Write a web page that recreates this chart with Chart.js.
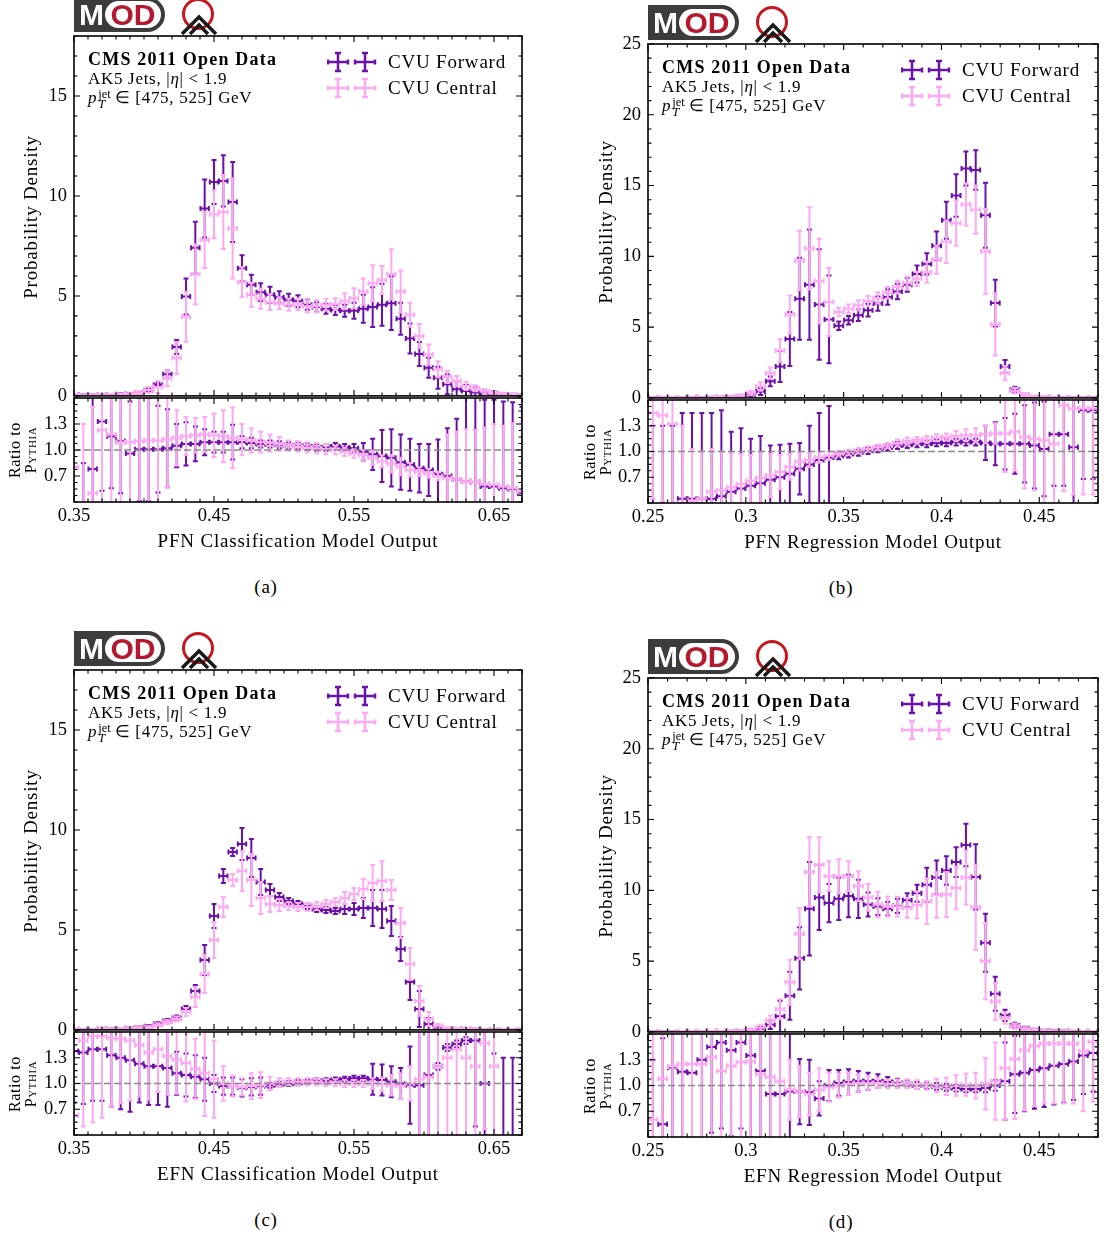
<!DOCTYPE html>
<html>
<head>
<meta charset="utf-8">
<title>CVU Forward vs Central</title>
<script src="https://cdn.jsdelivr.net/npm/chart.js@4.4.1/dist/chart.umd.min.js"></script>
<style>
  html, body { margin: 0; padding: 0; background: #fff; }
  body { position: relative; width: 1106px; height: 1239px; overflow: hidden; font-family: 'Liberation Serif', 'Times New Roman', serif; color: #000; }
  canvas, .abs { position: absolute; }
  .rot { white-space: nowrap; transform: translate(-50%, -50%) rotate(-90deg); }
  .ctr { white-space: nowrap; transform: translate(-50%, -50%); }
  .vc { white-space: nowrap; transform: translateY(-50%); }
  .mod { position: relative; width: 91px; height: 35px; background: #3c3c3c; border-radius: 0 18px 18px 0; font-family: 'Liberation Sans', Arial, sans-serif; font-weight: bold; }
  .mod .m { position: absolute; left: 5px; top: 0; color: #fff; font-size: 30px; line-height: 35px; }
  .mod .od { position: absolute; left: 31px; top: 4px; width: 56px; height: 27px; border-radius: 14px; background: #fff; color: #b3192f; font-size: 30px; line-height: 28px; text-align: center; }
  .info { font-size: 17px; line-height: 19px; letter-spacing: 0.7px; white-space: nowrap; }
  .info .cms { font-weight: bold; font-size: 18px; letter-spacing: 1.2px; }
  .ss { display: inline-block; vertical-align: -5px; font-size: 12.5px; line-height: 10px; letter-spacing: 0; margin: 0 4px 0 1px; }
  .ss span { display: block; }
  .leg { font-size: 19px; letter-spacing: 0.8px; }
  .ttl { font-size: 19px; letter-spacing: 0.8px; }
  .rtl { font-size: 16px; letter-spacing: 0.6px; }
</style>
</head>
<body>
<script>
"use strict";

// ---- binning / ticks ----
const classBinStart = 0.35, classBinWidth = 1 / 150, classBinCount = 49;
const regBinStart = 0.2525, regBinWidth = 0.005, regBinCount = 46;
const classTicks = [0.35, 0.45, 0.55, 0.65];
const classTickLabels = ['0.35', '0.45', '0.55', '0.65'];
const regTicks = [0.25, 0.3, 0.35, 0.4, 0.45];
const regTickLabels = ['0.25', '0.3', '0.35', '0.4', '0.45'];
const classDensityTicks = [0, 5, 10, 15];
const regDensityTicks = [0, 5, 10, 15, 20, 25];
const ratioTicks = [0.7, 1.0, 1.3];
const ratioTickLabels = ['0.7', '1.0', '1.3'];

// ---- (a) PFN classification ----
const pfnClassForward = [0.03, 0.04, 0.04, 0.05, 0.05, 0.08, 0.1, 0.15, 0.3, 0.55, 1.08, 2.44, 4.97, 7.41, 9.37, 10.7, 10.75, 9.7, 6.38, 5.56, 5.19, 5.06, 4.94, 4.81, 4.73, 4.56, 4.44, 4.36, 4.3, 4.26, 4.26, 4.36, 4.44, 4.56, 4.64, 3.86, 2.87, 2.1, 1.41, 0.91, 0.58, 0.33, 0.25, 0.17, 0.12, 0.08, 0.05, 0.03, 0.02];
const pfnClassForwardErr = [0.03, 0.03, 0.03, 0.03, 0.04, 0.05, 0.05, 0.06, 0.08, 0.1, 0.2, 0.35, 0.9, 1.3, 1.45, 1.1, 1.28, 2.0, 0.66, 0.5, 0.45, 0.4, 0.3, 0.3, 0.3, 0.25, 0.25, 0.25, 0.25, 0.3, 0.4, 0.7, 1.0, 1.05, 1.35, 0.8, 0.75, 0.6, 0.5, 0.55, 0.5, 0.4, 0.3, 0.25, 0.2, 0.15, 0.1, 0.08, 0.05];
const pfnClassCentral = [0.03, 0.03, 0.04, 0.04, 0.05, 0.07, 0.1, 0.15, 0.3, 0.45, 0.88, 1.9, 3.96, 6.09, 7.8, 9.09, 9.2, 8.37, 5.69, 5.06, 4.86, 4.69, 4.64, 4.56, 4.59, 4.48, 4.48, 4.56, 4.59, 4.73, 4.89, 5.22, 5.64, 5.8, 6.09, 5.22, 4.06, 2.99, 2.07, 1.33, 0.95, 0.75, 0.5, 0.38, 0.22, 0.13, 0.08, 0.05, 0.03];
const pfnClassCentralErr = [0.03, 0.03, 0.03, 0.04, 0.04, 0.05, 0.06, 0.08, 0.15, 0.3, 0.4, 0.8, 1.25, 1.5, 1.4, 1.2, 1.85, 2.5, 0.75, 0.6, 0.5, 0.4, 0.3, 0.3, 0.3, 0.3, 0.3, 0.3, 0.3, 0.4, 0.5, 0.65, 0.9, 0.7, 1.25, 1.05, 0.6, 0.6, 0.5, 0.4, 0.3, 0.25, 0.2, 0.15, 0.12, 0.1, 0.08, 0.05, 0.04];
const pfnClassForwardRatio = [0.3, 0.3, 0.78, 1.33, 1.16, 1.1, 0.96, 1.01, 1.01, 1.01, 1.02, 1.05, 1.07, 1.07, 1.09, 1.09, 1.09, 1.09, 1.09, 1.08, 1.07, 1.07, 1.06, 1.05, 1.05, 1.04, 1.03, 1.03, 1.04, 1.03, 1.02, 0.98, 0.95, 0.93, 0.91, 0.86, 0.83, 0.79, 0.77, 0.72, 0.7, 0.66, 0.64, 0.63, 0.58, 0.58, 0.56, 0.55, 0.5];
const pfnClassForwardRatioErr = [0.5, 0.55, 1.0, 0.8, 0.6, 0.6, 0.6, 0.6, 0.6, 0.5, 0.45, 0.25, 0.25, 0.2, 0.15, 0.12, 0.12, 0.2, 0.07, 0.06, 0.04, 0.04, 0.04, 0.04, 0.04, 0.04, 0.04, 0.04, 0.04, 0.04, 0.05, 0.1, 0.18, 0.3, 0.33, 0.32, 0.3, 0.28, 0.3, 0.4, 0.55, 0.7, 1.0, 1.0, 1.0, 1.0, 1.0, 1.0, 1.0];
const pfnClassCentralRatio = [0.8, 0.3, 0.5, 1.23, 1.18, 1.09, 1.09, 1.1, 1.11, 1.11, 1.12, 1.14, 1.16, 1.17, 1.18, 1.17, 1.16, 1.14, 1.12, 1.11, 1.09, 1.08, 1.07, 1.05, 1.04, 1.03, 1.02, 1.01, 1.0, 0.98, 0.96, 0.94, 0.91, 0.87, 0.84, 0.81, 0.77, 0.75, 0.73, 0.7, 0.68, 0.66, 0.64, 0.63, 0.61, 0.6, 0.58, 0.56, 0.52];
const pfnClassCentralRatioErr = [1, 1, 1, 1, 1, 1, 1, 1, 1, 1, 0.55, 0.32, 0.22, 0.2, 0.2, 0.25, 0.3, 0.35, 0.18, 0.14, 0.12, 0.1, 0.08, 0.06, 0.06, 0.06, 0.06, 0.06, 0.05, 0.05, 0.05, 0.06, 0.08, 0.07, 0.1, 0.1, 0.08, 0.05, 0.05, 0.05, 0.5, 0.55, 0.6, 0.6, 0.65, 0.7, 0.7, 0.75, 0.8];

// ---- (b) PFN regression ----
const pfnRegForward = [0.03, 0.03, 0.03, 0.03, 0.04, 0.04, 0.05, 0.06, 0.08, 0.1, 0.25, 0.45, 1.17, 2.22, 4.16, 7.0, 8.0, 6.6, 5.54, 5.09, 5.49, 5.84, 6.2, 6.66, 7.13, 7.52, 7.99, 8.76, 9.46, 10.75, 12.55, 14.3, 16.2, 16.1, 12.9, 6.7, 2.22, 0.58, 0.2, 0.08, 0.05, 0.04, 0.03, 0.03, 0.02, 0.02];
const pfnRegForwardErr = [0.03, 0.03, 0.03, 0.03, 0.03, 0.03, 0.04, 0.04, 0.05, 0.06, 0.12, 0.25, 0.35, 1.1, 1.9, 2.9, 3.9, 3.9, 3.1, 0.3, 0.3, 0.4, 0.45, 0.5, 0.55, 0.55, 0.5, 0.6, 0.75, 1.0, 1.3, 1.5, 1.2, 1.4, 2.3, 1.65, 0.45, 0.2, 0.1, 0.06, 0.04, 0.03, 0.03, 0.03, 0.02, 0.02];
const pfnRegCentral = [0.03, 0.04, 0.04, 0.04, 0.05, 0.05, 0.06, 0.08, 0.1, 0.15, 0.35, 0.8, 1.75, 3.34, 5.89, 9.7, 10.56, 8.25, 6.78, 6.07, 6.3, 6.54, 6.85, 7.06, 7.43, 7.83, 8.1, 8.41, 8.88, 9.77, 11.03, 12.34, 13.67, 13.3, 10.35, 5.19, 1.75, 0.51, 0.2, 0.1, 0.06, 0.05, 0.04, 0.03, 0.03, 0.02];
const pfnRegCentralErr = [0.03, 0.03, 0.03, 0.03, 0.03, 0.03, 0.04, 0.05, 0.06, 0.1, 0.15, 0.3, 0.4, 0.8, 1.35, 2.1, 2.9, 3.0, 2.4, 0.3, 0.3, 0.35, 0.35, 0.4, 0.4, 0.45, 0.45, 0.5, 0.75, 1.0, 1.5, 1.6, 1.5, 1.7, 3.0, 2.2, 0.5, 0.2, 0.1, 0.06, 0.05, 0.04, 0.04, 0.03, 0.03, 0.03];
const pfnRegForwardRatio = [0.3, 0.3, 0.3, 0.45, 0.45, 0.45, 0.45, 0.48, 0.53, 0.57, 0.6, 0.63, 0.67, 0.7, 0.74, 0.8, 0.85, 0.9, 0.93, 0.95, 0.97, 0.99, 1.01, 1.03, 1.05, 1.07, 1.08, 1.09, 1.09, 1.1, 1.1, 1.11, 1.11, 1.11, 1.1, 1.09, 1.09, 1.09, 1.09, 1.07, 1.03, 1.2, 1.2, 1.05, 1.48, 1.48];
const pfnRegForwardRatioErr = [1, 1, 1, 1, 1, 1, 1, 1, 0.7, 0.7, 0.55, 0.55, 0.4, 0.38, 0.35, 0.3, 0.45, 0.55, 0.6, 0.04, 0.04, 0.04, 0.04, 0.04, 0.04, 0.04, 0.04, 0.04, 0.04, 0.04, 0.04, 0.04, 0.04, 0.04, 0.2, 0.25, 0.3, 0.35, 0.45, 0.5, 0.55, 0.6, 0.6, 0.7, 0.8, 0.8];
const pfnRegCentralRatio = [1.45, 1.42, 1.32, 0.4, 0.43, 0.45, 0.53, 0.55, 0.58, 0.62, 0.66, 0.69, 0.72, 0.76, 0.82, 0.88, 0.9, 0.93, 0.95, 0.98, 0.99, 1.01, 1.03, 1.05, 1.07, 1.1, 1.12, 1.13, 1.14, 1.16, 1.17, 1.18, 1.19, 1.19, 1.2, 1.21, 1.21, 1.23, 1.17, 1.15, 1.13, 1.09, 1.54, 1.5, 1.5, 1.5];
const pfnRegCentralRatioErr = [1, 1, 1, 0.9, 0.6, 0.55, 0.5, 0.45, 0.4, 0.35, 0.3, 0.3, 0.25, 0.2, 0.15, 0.1, 0.08, 0.06, 0.05, 0.03, 0.03, 0.03, 0.03, 0.03, 0.03, 0.04, 0.04, 0.04, 0.04, 0.04, 0.04, 0.06, 0.07, 0.08, 0.1, 0.12, 0.45, 0.45, 0.6, 0.6, 1, 1, 1, 1, 1, 1];

// ---- (c) EFN classification ----
const efnClassForward = [0.02, 0.03, 0.03, 0.04, 0.05, 0.06, 0.08, 0.12, 0.18, 0.3, 0.45, 0.6, 1.05, 1.95, 3.5, 5.7, 7.7, 8.9, 9.3, 8.6, 7.4, 7.0, 6.65, 6.45, 6.3, 6.2, 6.05, 6.0, 5.95, 6.05, 6.05, 6.1, 6.1, 6.05, 5.45, 4.05, 2.4, 1.05, 0.3, 0.1, 0.05, 0.04, 0.03, 0.03, 0.02, 0.02, 0.02, 0.02, 0.02];
const efnClassForwardErr = [0.02, 0.02, 0.02, 0.03, 0.03, 0.03, 0.04, 0.05, 0.06, 0.08, 0.1, 0.12, 0.15, 0.3, 0.75, 0.6, 0.35, 0.2, 0.8, 0.95, 0.65, 0.3, 0.2, 0.15, 0.15, 0.15, 0.15, 0.15, 0.15, 0.25, 0.3, 0.5, 0.9, 0.95, 0.75, 0.6, 0.9, 0.9, 0.3, 0.1, 0.05, 0.04, 0.03, 0.03, 0.02, 0.02, 0.02, 0.02, 0.02];
const efnClassCentral = [0.02, 0.03, 0.03, 0.04, 0.05, 0.06, 0.08, 0.11, 0.15, 0.25, 0.4, 0.55, 0.9, 1.65, 2.8, 4.5, 6.15, 7.5, 7.95, 7.5, 6.6, 6.3, 6.25, 6.2, 6.15, 6.15, 6.2, 6.3, 6.4, 6.6, 6.8, 7.05, 7.35, 7.45, 7.0, 5.35, 3.3, 1.45, 0.55, 0.2, 0.08, 0.05, 0.04, 0.03, 0.03, 0.02, 0.02, 0.02, 0.02];
const efnClassCentralErr = [0.02, 0.02, 0.02, 0.03, 0.03, 0.03, 0.04, 0.05, 0.06, 0.08, 0.1, 0.12, 0.2, 0.5, 0.95, 0.9, 0.5, 0.3, 1.0, 1.3, 0.8, 0.4, 0.3, 0.2, 0.2, 0.2, 0.2, 0.2, 0.2, 0.3, 0.3, 0.5, 0.9, 1.0, 0.5, 0.75, 0.8, 0.75, 0.35, 0.1, 0.05, 0.04, 0.03, 0.03, 0.02, 0.02, 0.02, 0.02, 0.02];
const efnClassForwardRatio = [1.38, 1.36, 1.4, 1.4, 1.33, 1.3, 1.27, 1.23, 1.2, 1.2, 1.18, 1.12, 1.1, 1.08, 1.05, 1.0, 0.97, 0.97, 0.95, 0.96, 0.97, 0.98, 0.99, 1.0, 1.01, 1.02, 1.03, 1.03, 1.04, 1.05, 1.06, 1.06, 1.05, 1.04, 1.02, 1.0, 0.98, 0.98, 1.1, 1.2, 1.42, 1.46, 1.5, 1.5, 1.0, 0.35, 0.3, 0.3, 0.3];
const efnClassForwardRatioErr = [0.6, 0.6, 0.6, 0.6, 0.6, 0.6, 0.6, 0.45, 0.45, 0.45, 0.45, 0.25, 0.25, 0.25, 0.25, 0.1, 0.1, 0.1, 0.1, 0.1, 0.1, 0.03, 0.03, 0.03, 0.03, 0.03, 0.03, 0.03, 0.03, 0.03, 0.03, 0.03, 0.18, 0.18, 0.18, 0.18, 0.45, 1, 1, 0.04, 0.04, 0.04, 0.04, 1, 1, 1, 1, 1, 1];
const efnClassCentralRatio = [0.63, 1.5, 1.55, 1.55, 1.53, 1.52, 1.5, 1.45, 1.36, 1.4, 1.32, 1.28, 1.24, 1.17, 1.12, 1.05, 1.0, 0.97, 0.96, 0.97, 0.98, 1.0, 1.01, 1.02, 1.02, 1.02, 1.02, 1.01, 1.01, 1.0, 1.0, 1.0, 1.0, 0.99, 0.98, 0.97, 1.0, 1.05, 1.08, 1.2, 1.3, 1.4, 1.3, 1.2, 1.47, 1.2, null, null, null];
const efnClassCentralRatioErr = [1, 1, 1, 0.95, 0.8, 0.75, 0.7, 0.6, 0.55, 0.5, 0.45, 0.4, 0.45, 0.35, 0.5, 0.45, 0.2, 0.12, 0.1, 0.15, 0.15, 0.08, 0.05, 0.04, 0.04, 0.04, 0.04, 0.04, 0.04, 0.04, 0.04, 0.04, 0.06, 0.08, 0.12, 0.15, 0.2, 1, 1, 1, 1, 1, 1, 1, 1, 1, null, null, null];

// ---- (d) EFN regression ----
const efnRegForward = [0.02, 0.02, 0.03, 0.03, 0.03, 0.03, 0.04, 0.04, 0.05, 0.06, 0.1, 0.2, 0.5, 1.1, 2.55, 5.2, 8.7, 9.5, 9.1, 9.4, 9.6, 9.4, 9.0, 8.85, 8.7, 8.9, 9.3, 9.8, 10.4, 10.9, 11.4, 12.0, 13.2, 10.95, 6.3, 2.7, 1.17, 0.45, 0.25, 0.15, 0.1, 0.08, 0.06, 0.05, 0.04, 0.03];
const efnRegForwardErr = [0.02, 0.02, 0.02, 0.02, 0.03, 0.03, 0.03, 0.03, 0.04, 0.05, 0.08, 0.15, 0.3, 1.1, 1.7, 2.2, 3.3, 2.3, 1.35, 1.5, 1.5, 1.35, 0.85, 0.6, 0.5, 0.5, 0.5, 0.6, 1.2, 1.2, 1.0, 1.05, 1.5, 2.3, 2.05, 1.2, 0.4, 0.2, 0.12, 0.08, 0.06, 0.05, 0.04, 0.04, 0.03, 0.03];
const efnRegCentral = [0.02, 0.03, 0.03, 0.03, 0.04, 0.04, 0.05, 0.05, 0.06, 0.08, 0.15, 0.3, 0.8, 1.6, 3.5, 6.94, 11.3, 11.8, 11.0, 11.0, 11.0, 10.3, 9.5, 9.0, 8.86, 8.85, 8.76, 8.97, 9.23, 9.67, 9.7, 10.16, 10.9, 8.8, 5.0, 2.15, 0.98, 0.4, 0.2, 0.12, 0.08, 0.06, 0.05, 0.04, 0.03, 0.03];
const efnRegCentralErr = [0.02, 0.02, 0.02, 0.03, 0.03, 0.03, 0.04, 0.04, 0.05, 0.06, 0.1, 0.2, 0.35, 0.7, 1.6, 1.8, 2.45, 1.95, 1.05, 1.2, 1.05, 1.05, 0.95, 0.9, 0.7, 0.7, 0.7, 0.95, 1.6, 1.6, 1.6, 1.5, 1.9, 3.0, 2.7, 1.3, 0.4, 0.2, 0.12, 0.08, 0.06, 0.05, 0.04, 0.04, 0.03, 0.03];
const efnRegForwardRatio = [0.3, 0.55, 1.21, 1.16, 1.15, 1.3, 1.45, 1.5, 1.41, 1.5, 1.35, 1.17, 0.9, 0.9, 0.93, 0.93, 0.92, 0.85, 1.0, 1.03, 1.04, 1.05, 1.05, 1.05, 1.04, 1.03, 1.02, 1.0, 1.0, 0.99, 0.98, 0.97, 0.96, 0.96, 0.97, 1.0, 1.05, 1.13, 1.15, 1.18, 1.2, 1.23, 1.25, 1.28, 1.35, 1.38];
const efnRegForwardRatioErr = [1, 1, 1, 1, 1, 1, 1, 1, 1, 1, 1, 1, 1, 1, 1, 0.38, 0.38, 0.2, 0.18, 0.15, 0.15, 0.12, 0.1, 0.08, 0.06, 0.05, 0.04, 0.04, 0.04, 0.04, 0.04, 0.04, 0.04, 0.04, 0.05, 0.06, 0.45, 0.45, 0.45, 0.45, 0.45, 0.45, 0.45, 0.45, 0.45, 0.45];
const efnRegCentralRatio = [0.6, 1.08, 1.22, 1.25, 1.25, 1.25, 1.33, 1.17, 1.23, 1.27, 1.28, 1.13, 1.1, 1.05, 0.95, 0.93, 0.9, 0.95, 0.98, 1.0, 1.02, 1.03, 1.03, 1.03, 1.02, 1.02, 1.02, 1.01, 1.0, 1.0, 0.99, 1.0, 1.01, 1.0, 1.02, 1.05, 1.2, 1.31, 1.41, 1.46, 1.49, 1.49, 1.49, 1.49, 1.4, 1.51];
const efnRegCentralRatioErr = [1, 1, 1, 1, 1, 1, 1, 1, 1, 1, 1, 1, 0.9, 0.8, 0.35, 0.3, 0.25, 0.25, 0.17, 0.14, 0.13, 0.1, 0.08, 0.06, 0.05, 0.05, 0.05, 0.05, 0.05, 0.08, 0.1, 0.12, 0.13, 0.15, 0.3, 0.45, 0.6, 0.7, 0.7, 0.7, 0.7, 0.7, 0.7, 0.7, 0.7, 0.7];

const DARK = '#6b10a8';
const PINK = '#ffa8f4';
const SERIF = "'Liberation Serif', 'Times New Roman', serif";
const tickFont = {family: SERIF, size: 18.5};

function binCenters(start, width, n) {
  const out = [];
  for (let k = 0; k < n; k++) out.push(start + k * width);
  return out;
}
const classBins = binCenters(classBinStart, classBinWidth, classBinCount);
const regBins = binCenters(regBinStart, regBinWidth, regBinCount);

function points(bins, vals, errs) {
  const out = [];
  bins.forEach((b, i) => {
    if (vals[i] != null) out.push({x: b, y: vals[i], err: errs[i]});
  });
  return out;
}

function steps(base, step, min, max) {
  const out = [];
  const k0 = Math.ceil((min - base) / step - 1e-6), k1 = Math.floor((max - base) / step + 1e-6);
  for (let k = k0; k <= k1; k++) out.push(base + k * step);
  return out;
}

// error bars: horizontal bar over the bin + vertical stat. error, both capped
const errorBars = {
  id: 'errorBars',
  afterDatasetsDraw(chart, args, opts) {
    if (!opts || !opts.halfWidth) return;
    const {ctx, chartArea: a} = chart;
    const xs = chart.scales.x, ys = chart.scales.y;
    ctx.save();
    ctx.beginPath();
    ctx.rect(a.left, a.top, a.right - a.left, a.bottom - a.top);
    ctx.clip();
    ctx.lineWidth = 2;
    chart.data.datasets.forEach(ds => {
      ctx.strokeStyle = ds.borderColor;
      ctx.beginPath();
      ds.data.forEach(p => {
        const px = xs.getPixelForValue(p.x), py = ys.getPixelForValue(p.y);
        const l = xs.getPixelForValue(p.x - opts.halfWidth), r = xs.getPixelForValue(p.x + opts.halfWidth);
        const t = ys.getPixelForValue(p.y + p.err), b = ys.getPixelForValue(p.y - p.err);
        ctx.moveTo(l, py); ctx.lineTo(r, py);
        ctx.moveTo(l, py - 2.5); ctx.lineTo(l, py + 2.5);
        ctx.moveTo(r, py - 2.5); ctx.lineTo(r, py + 2.5);
        ctx.moveTo(px, t); ctx.lineTo(px, b);
        ctx.moveTo(px - 2.5, t); ctx.lineTo(px + 2.5, t);
        ctx.moveTo(px - 2.5, b); ctx.lineTo(px + 2.5, b);
      });
      ctx.stroke();
    });
    ctx.restore();
  }
};

// box frame with inward ticks on all sides, optional dashed reference line
const frame = {
  id: 'frame',
  afterDatasetsDraw(chart, args, o) {
    if (!o || !o.xMajor) return;
    const {ctx, chartArea: a} = chart;
    const xs = chart.scales.x, ys = chart.scales.y;
    ctx.save();
    if (o.refLine != null) {
      const py = ys.getPixelForValue(o.refLine);
      ctx.strokeStyle = '#8a8a8a';
      ctx.lineWidth = 1.5;
      ctx.setLineDash([7, 3]);
      ctx.beginPath(); ctx.moveTo(a.left, py); ctx.lineTo(a.right, py); ctx.stroke();
      ctx.setLineDash([]);
    }
    ctx.strokeStyle = '#000';
    ctx.lineWidth = 1.1;
    ctx.beginPath();
    const xMarks = (vals, len) => vals.forEach(v => {
      const px = xs.getPixelForValue(v);
      ctx.moveTo(px, a.bottom); ctx.lineTo(px, a.bottom - len);
      ctx.moveTo(px, a.top); ctx.lineTo(px, a.top + len);
    });
    const yMarks = (vals, len) => vals.forEach(v => {
      const py = ys.getPixelForValue(v);
      ctx.moveTo(a.left, py); ctx.lineTo(a.left + len, py);
      ctx.moveTo(a.right, py); ctx.lineTo(a.right - len, py);
    });
    xMarks(o.xMajor, 6);
    xMarks(steps(o.xMajor[0], o.xMinorStep, xs.min, xs.max), 3.5);
    yMarks(o.yMajor, 6);
    yMarks(steps(o.yMajor[0], o.yMinorStep, ys.min, ys.max), 3.5);
    ctx.stroke();
    ctx.lineWidth = 1.6;
    ctx.strokeRect(a.left, a.top, a.right - a.left, a.bottom - a.top);
    ctx.restore();
  }
};

Chart.register(errorBars, frame);

function addCanvas(x, y, w, h) {
  const cv = document.createElement('canvas');
  cv.width = w; cv.height = h;
  cv.style.left = x + 'px'; cv.style.top = y + 'px';
  cv.style.width = w + 'px'; cv.style.height = h + 'px';
  document.body.appendChild(cv);
  return cv;
}

function addHtml(html, cls, x, y) {
  const d = document.createElement('div');
  d.className = 'abs ' + cls;
  d.innerHTML = html;
  d.style.left = x + 'px';
  d.style.top = y + 'px';
  document.body.appendChild(d);
  return d;
}

function yScale(p, min, max, ticks, labels) {
  return {
    type: 'linear', min: min, max: max,
    afterFit: s => { s.width = p.frameLeft - p.left; },
    afterBuildTicks: s => { s.ticks = ticks.map(v => ({value: v})); },
    ticks: {font: tickFont, color: '#000', padding: 7, autoSkip: false, callback: (v, i) => labels[i]},
    grid: {display: false, drawTicks: false},
    border: {display: false}
  };
}

function xScale(p, show) {
  return {
    type: 'linear', min: p.xMin, max: p.xMax, display: show,
    afterFit: s => { s.height = show ? 55 : 0; },
    afterBuildTicks: s => { s.ticks = p.xTicks.map(v => ({value: v})); },
    ticks: {font: tickFont, color: '#000', padding: 3, autoSkip: false, maxRotation: 0, minRotation: 0,
      callback: (v, i) => p.xTickLabels[i]},
    grid: {display: false, drawTicks: false},
    border: {display: false}
  };
}

function chartOptions(p, padding, scales, frameOpts) {
  return {
    responsive: false, animation: false, events: [], devicePixelRatio: 1,
    layout: {padding: padding},
    elements: {point: {radius: 0}},
    plugins: {
      legend: {display: false}, tooltip: {enabled: false},
      errorBars: {halfWidth: p.binWidth * 0.45},
      frame: frameOpts
    },
    scales: scales
  };
}

function datasets(bins, f, fe, c, ce) {
  return [
    {label: 'CVU Forward', data: points(bins, f, fe), borderColor: DARK, showLine: false, pointRadius: 0},
    {label: 'CVU Central', data: points(bins, c, ce), borderColor: PINK, showLine: false, pointRadius: 0}
  ];
}

function crossSvg(color) {
  const one = cx => `<line x1="${cx - 10}" y1="11" x2="${cx + 10}" y2="11"/>` +
    `<line x1="${cx - 10}" y1="8.5" x2="${cx - 10}" y2="13.5"/><line x1="${cx + 10}" y1="8.5" x2="${cx + 10}" y2="13.5"/>` +
    `<line x1="${cx}" y1="2" x2="${cx}" y2="20"/>` +
    `<line x1="${cx - 3}" y1="2" x2="${cx + 3}" y2="2"/><line x1="${cx - 3}" y1="20" x2="${cx + 3}" y2="20"/>`;
  return `<svg width="50" height="22" stroke="${color}" stroke-width="2.5" fill="none">${one(11)}${one(38)}</svg>`;
}

function makePanel(p) {
  // main density plot
  const mainH = p.mainBottom - p.mainTop;
  const cvMain = addCanvas(p.left, p.mainTop - 20, p.frameRight - p.left + 10, mainH + 36);
  new Chart(cvMain, {
    type: 'scatter',
    data: {datasets: datasets(p.bins, p.forward, p.forwardErr, p.central, p.centralErr)},
    options: chartOptions(p, {left: 0, right: 10, top: 20, bottom: 16}, {
      x: xScale(p, false),
      y: yScale(p, 0, p.yMax, p.yTicks, p.yTicks.map(String))
    }, {xMajor: p.xTicks, xMinorStep: 0.01, yMajor: p.yTicks, yMinorStep: 1})
  });

  // ratio plot
  const ratioH = p.ratioBottom - p.mainBottom;
  const cvRatio = addCanvas(p.left, p.mainBottom - 25, p.frameRight - p.left + 10, ratioH + 25 + 55);
  new Chart(cvRatio, {
    type: 'scatter',
    data: {datasets: datasets(p.bins, p.forwardRatio, p.forwardRatioErr, p.centralRatio, p.centralRatioErr)},
    options: chartOptions(p, {left: 0, right: 10, top: 25, bottom: 0}, {
      x: xScale(p, true),
      y: yScale(p, 0.4, 1.6, ratioTicks, ratioTickLabels)
    }, {xMajor: p.xTicks, xMinorStep: 0.01, yMajor: ratioTicks, yMinorStep: 0.075, refLine: 1.0})
  });

  // logos
  addHtml('<div class="mod"><span class="m">M</span><span class="od">OD</span></div>', '', p.frameLeft, p.mainTop - 39);
  addHtml('<svg width="42" height="38"><circle cx="19" cy="17" r="14.5" fill="none" stroke="#c4161c" stroke-width="3"/>' +
    '<polyline points="3,37 20,20 37,37" fill="none" stroke="#1a1a1a" stroke-width="3.5"/>' +
    '<polyline points="11,37 20,28 29,37" fill="none" stroke="#1a1a1a" stroke-width="3.5"/></svg>',
    '', p.frameLeft + 105, p.mainTop - 39);

  // in-plot text
  addHtml('<div class="cms">CMS 2011 Open Data</div><div>AK5 Jets, |<i>η</i>| &lt; 1.9</div>' +
    '<div><i>p</i><span class="ss"><span>jet</span><span><i>T</i></span></span>∈ [475, 525] GeV</div>',
    'info', p.frameLeft + 14, p.mainTop + 14);

  // legend
  addHtml(crossSvg(DARK), '', p.frameLeft + 253, p.mainTop + 15);
  addHtml(crossSvg(PINK), '', p.frameLeft + 253, p.mainTop + 41);
  addHtml('CVU Forward', 'leg vc', p.frameLeft + 314, p.mainTop + 26);
  addHtml('CVU Central', 'leg vc', p.frameLeft + 314, p.mainTop + 52);

  // axis titles
  addHtml('Probability Density', 'ttl rot', p.left + 31, (p.mainTop + p.mainBottom) / 2);
  addHtml('Ratio to', 'rtl rot', p.left + 15, (p.mainBottom + p.ratioBottom) / 2);
  addHtml('<span style="font-variant: small-caps">Pythia</span>', 'rtl rot', p.left + 31, (p.mainBottom + p.ratioBottom) / 2);
  addHtml(p.xTitle, 'ttl ctr', (p.frameLeft + p.frameRight) / 2, p.ratioBottom + 39);
  addHtml(p.tag, 'ttl ctr', p.left + 266, p.ratioBottom + 85);
}

const classAxis = {xMin: 0.35, xMax: 0.67, bins: classBins, binWidth: classBinWidth, xTicks: classTicks, xTickLabels: classTickLabels, yMax: 18, yTicks: classDensityTicks};
const regAxis = {xMin: 0.25, xMax: 0.48, bins: regBins, binWidth: regBinWidth, xTicks: regTicks, xTickLabels: regTickLabels, yMax: 25, yTicks: regDensityTicks};

makePanel(Object.assign({}, classAxis, {
  tag: '(a)', xTitle: 'PFN Classification Model Output',
  left: 0, frameLeft: 74, frameRight: 522, mainTop: 36, mainBottom: 398, ratioBottom: 502,
  forward: pfnClassForward, forwardErr: pfnClassForwardErr, central: pfnClassCentral, centralErr: pfnClassCentralErr,
  forwardRatio: pfnClassForwardRatio, forwardRatioErr: pfnClassForwardRatioErr,
  centralRatio: pfnClassCentralRatio, centralRatioErr: pfnClassCentralRatioErr
}));
makePanel(Object.assign({}, regAxis, {
  tag: '(b)', xTitle: 'PFN Regression Model Output',
  left: 575, frameLeft: 648, frameRight: 1098, mainTop: 44, mainBottom: 400, ratioBottom: 503,
  forward: pfnRegForward, forwardErr: pfnRegForwardErr, central: pfnRegCentral, centralErr: pfnRegCentralErr,
  forwardRatio: pfnRegForwardRatio, forwardRatioErr: pfnRegForwardRatioErr,
  centralRatio: pfnRegCentralRatio, centralRatioErr: pfnRegCentralRatioErr
}));
makePanel(Object.assign({}, classAxis, {
  tag: '(c)', xTitle: 'EFN Classification Model Output',
  left: 0, frameLeft: 74, frameRight: 522, mainTop: 670, mainBottom: 1032, ratioBottom: 1135,
  forward: efnClassForward, forwardErr: efnClassForwardErr, central: efnClassCentral, centralErr: efnClassCentralErr,
  forwardRatio: efnClassForwardRatio, forwardRatioErr: efnClassForwardRatioErr,
  centralRatio: efnClassCentralRatio, centralRatioErr: efnClassCentralRatioErr
}));
makePanel(Object.assign({}, regAxis, {
  tag: '(d)', xTitle: 'EFN Regression Model Output',
  left: 575, frameLeft: 648, frameRight: 1098, mainTop: 678, mainBottom: 1034, ratioBottom: 1137,
  forward: efnRegForward, forwardErr: efnRegForwardErr, central: efnRegCentral, centralErr: efnRegCentralErr,
  forwardRatio: efnRegForwardRatio, forwardRatioErr: efnRegForwardRatioErr,
  centralRatio: efnRegCentralRatio, centralRatioErr: efnRegCentralRatioErr
}));
</script>
</body>
</html>
